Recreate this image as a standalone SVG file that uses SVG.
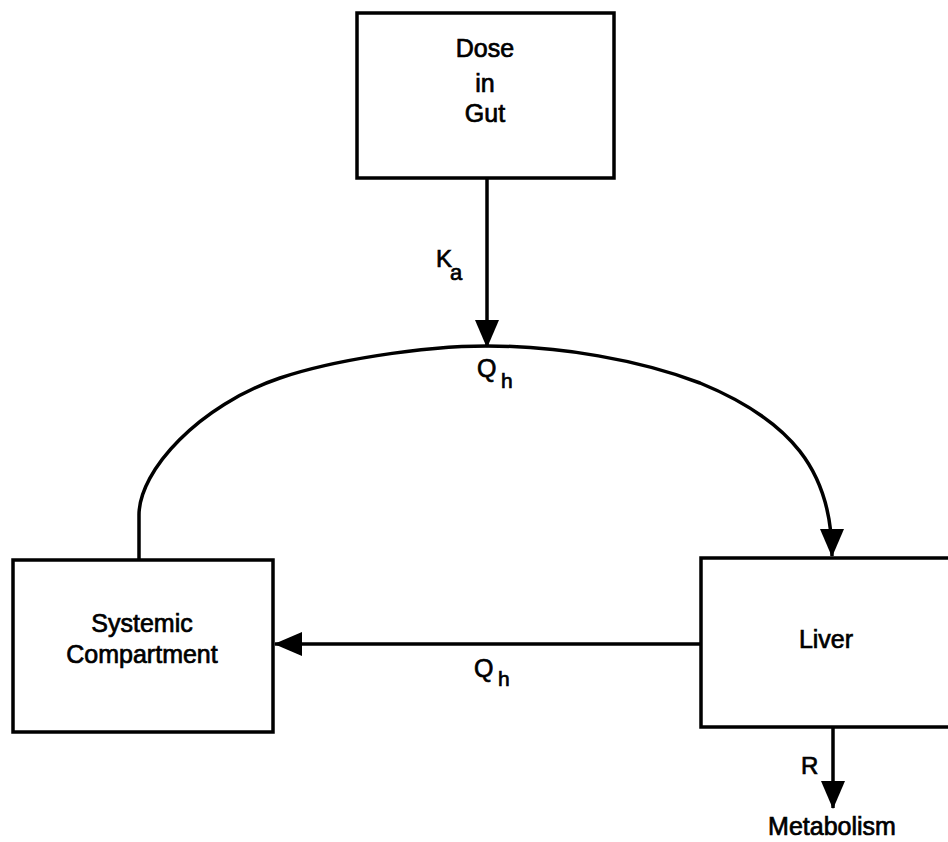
<svg xmlns="http://www.w3.org/2000/svg" width="948" height="842" viewBox="0 0 948 842">
  <style>
    .box { fill: none; stroke: #000; stroke-width: 3.5; }
    .line { fill: none; stroke: #000; stroke-width: 3.5; }
    .t { font-family: "Liberation Sans", Arial, sans-serif; font-size: 25px; fill: #000; stroke: #000; stroke-width: 0.7; text-anchor: middle; }
    .s { font-family: "Liberation Sans", Arial, sans-serif; fill: #000; stroke: #000; stroke-width: 0.7; }
  </style>
  <defs>
    <marker id="ah" markerUnits="userSpaceOnUse" markerWidth="28" markerHeight="24" refX="27" refY="12" orient="auto">
      <path d="M0,0 L28,12 L0,24 Z" fill="#000"/>
    </marker>
  </defs>
  <rect width="948" height="842" fill="#fff"/>

  <g id="gut">
    <rect class="box" x="357" y="13" width="257" height="165"/>
    <text class="t" x="485" y="57">Dose</text>
    <text class="t" x="485" y="92">in</text>
    <text class="t" x="485" y="122">Gut</text>
  </g>

  <g id="systemic">
    <rect class="box" x="13" y="560" width="260" height="172"/>
    <text class="t" x="142" y="632">Systemic</text>
    <text class="t" x="142" y="663">Compartment</text>
  </g>

  <g id="liver">
    <rect class="box" x="701" y="558" width="270" height="169"/>
    <text class="t" x="826" y="648">Liver</text>
  </g>

  <g id="metabolism">
    <text class="t" x="832" y="835">Metabolism</text>
  </g>

  <g id="connectors">
    <line class="line" x1="487" y1="178" x2="487" y2="347" marker-end="url(#ah)"/>
    <path class="line" d="M139,560 V515 C139,470 200,405 280,378 C330,361 420,346 487,346 C560,346 640,360 700,383 C790,420 832,470 832,556" marker-end="url(#ah)"/>
    <line class="line" x1="701" y1="644" x2="275" y2="644" marker-end="url(#ah)"/>
    <line class="line" x1="833" y1="727" x2="833" y2="808" marker-end="url(#ah)"/>
    <text class="s" x="436" y="267" font-size="24">K</text>
    <text class="s" x="450" y="280" font-size="22">a</text>
    <text class="s" x="477" y="377" font-size="25">Q</text>
    <text class="s" x="501" y="388" font-size="21">h</text>
    <text class="s" x="474" y="677" font-size="25">Q</text>
    <text class="s" x="498" y="686" font-size="21">h</text>
    <text class="s" x="801" y="774" font-size="24">R</text>
  </g>
</svg>
